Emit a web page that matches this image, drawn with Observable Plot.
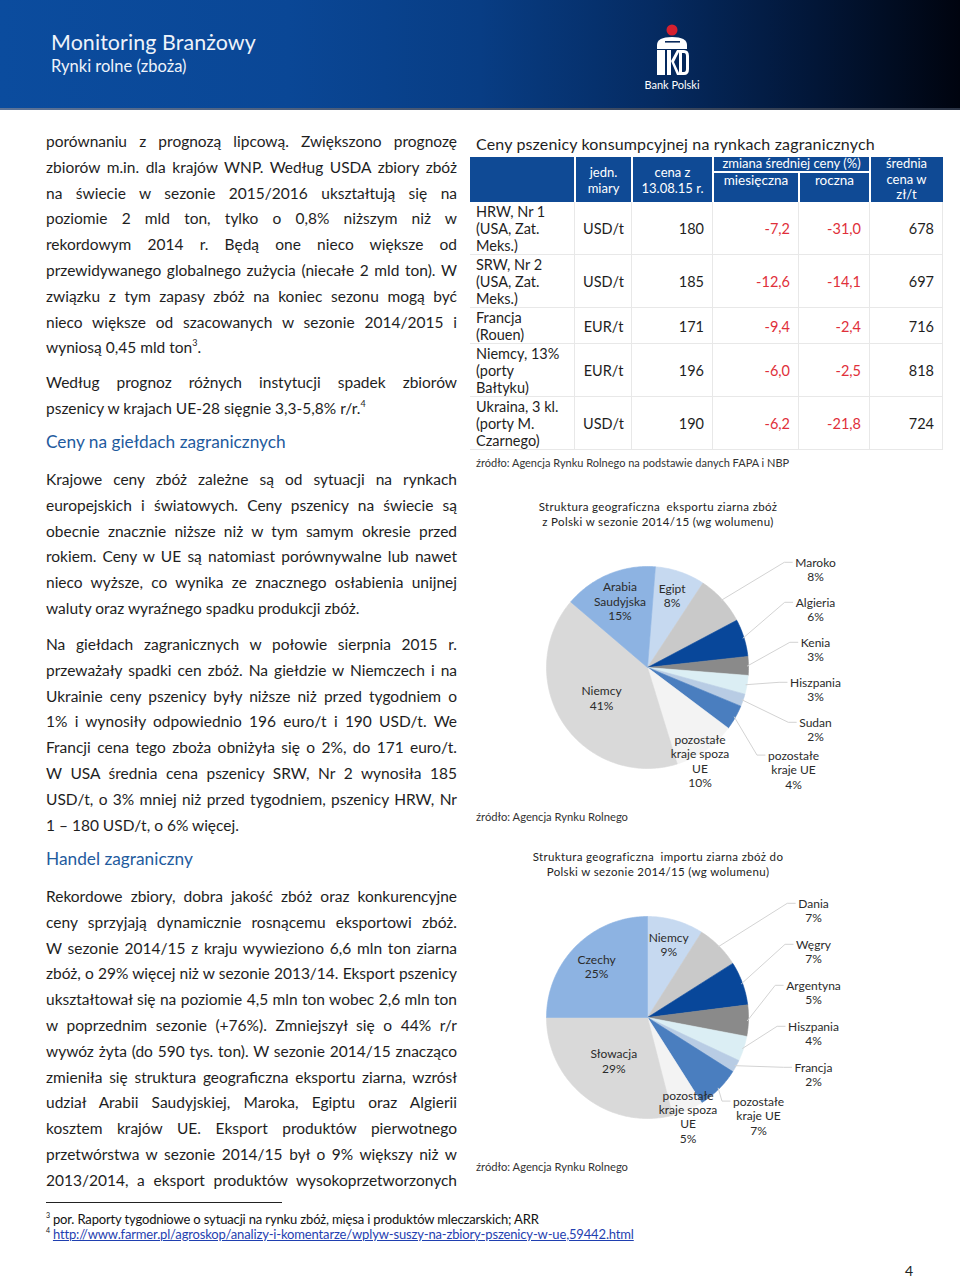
<!DOCTYPE html>
<html lang="pl">
<head>
<meta charset="utf-8">
<script src="https://cdn.jsdelivr.net/npm/d3@7"></script>
<script src="https://cdn.jsdelivr.net/npm/@observablehq/plot@0.6"></script>
<style>
  html,body{margin:0;padding:0;background:#fff;}
  body{width:960px;height:1279px;position:relative;overflow:hidden;font-family:Lato,"Noto Sans",sans-serif;color:#1e1e1e;}
  .abs{position:absolute;}
  .para{position:absolute;left:46px;width:411px;font-size:15.5px;line-height:25.8px;}
  .ln{width:411px;text-align:justify;text-align-last:justify;white-space:normal;}
  .ln.last{text-align-last:left;}
  .para sup{font-size:9px;line-height:0;vertical-align:7px;}
  .head{position:absolute;left:46px;font-size:17.3px;color:#1f5b9e;}
  .cell{position:absolute;box-sizing:border-box;display:flex;align-items:center;}
  .th{color:#fff;font-size:13px;line-height:15.5px;justify-content:center;text-align:center;}
  .td{font-size:14.5px;line-height:17px;}
  .num{justify-content:flex-end;padding-right:9px;}
  .neg{color:#e0303a;}
  .cap{position:absolute;font-size:11.5px;line-height:15px;color:#222;text-align:center;letter-spacing:0.35px;}
  .src{position:absolute;left:476px;font-size:11.2px;color:#333;}
  .fn{position:absolute;left:46px;font-size:13px;letter-spacing:-0.15px;color:#111;}
  .fn sup{font-size:7px;vertical-align:6px;line-height:0;margin-right:3px;}
</style>
</head>
<body>
<script>
// ---------------- DATA ----------------
// Table: Ceny pszenicy konsumpcyjnej na rynkach zagranicznych
const marketNames = ["HRW, Nr 1\n(USA, Zat.\nMeks.)", "SRW, Nr 2\n(USA, Zat.\nMeks.)", "Francja\n(Rouen)", "Niemcy, 13%\n(porty\nBałtyku)", "Ukraina, 3 kl.\n(porty M.\nCzarnego)"];
const marketUnits = ["USD/t", "USD/t", "EUR/t", "EUR/t", "USD/t"];
const priceAug13 = [180, 185, 171, 196, 190];
const monthlyChangePct = [-7.2, -12.6, -9.4, -6.0, -6.2];
const yearlyChangePct = [-31.0, -14.1, -2.4, -2.5, -21.8];
const avgPricePLN = [678, 697, 716, 818, 724];

// Pie 1: export structure (clockwise order as drawn)
const exportCountries = ["Egipt", "Maroko", "Algieria", "Kenia", "Hiszpania", "Sudan", "pozostałe\nkraje UE", "pozostałe\nkraje spoza\nUE", "Niemcy", "Arabia\nSaudyjska"];
const exportShares = [8, 8, 6, 3, 3, 2, 4, 10, 41, 15];

// Pie 2: import structure (clockwise order as drawn)
const importCountries = ["Niemcy", "Dania", "Węgry", "Argentyna", "Hiszpania", "Francja", "pozostałe\nkraje UE", "pozostałe\nkraje spoza\nUE", "Słowacja", "Czechy"];
const importShares = [9, 7, 7, 5, 4, 2, 7, 5, 29, 25];

// ---------------- STYLE ----------------
const slicePalette = ["#c6d9f0", "#c9c9c9", "#08479a", "#8a8a8a", "#dbeef4", "#b8cce4", "#4a7ebf", "#f3f3f3", "#d9d9d9", "#8db3e2"];
const insideLabelIdx = [0, 7, 8, 9];
const insideRadius = {0: 0.76, 7: 1.07, 8: 0.55, 9: 0.72};
</script>

<!-- Header -->
<div class="abs" style="left:0;top:0;width:960px;height:108px;background:linear-gradient(90deg,#0b4c9e 0%,#0a4796 30%,#083d84 50%,#052b62 68%,#021637 85%,#00040f 100%);"></div>
<div class="abs" style="left:0;top:108px;width:960px;height:2px;background:linear-gradient(90deg,#5d7498,#2a3344);"></div>
<div class="abs" style="left:51px;top:29px;font-size:21.4px;color:#eef3fa;font-family:Lato,sans-serif;letter-spacing:0.1px;">Monitoring Branżowy</div>
<div class="abs" style="left:51px;top:56px;font-size:16.5px;color:#eef3fa;">Rynki rolne (zboża)</div>
<svg class="abs" style="left:640px;top:15px" width="70" height="85" viewBox="640 15 70 85">
  <circle cx="672" cy="30" r="5.5" fill="#d5202e"/>
  <path d="M657,49 L657,45 Q657,37 672,37 Q687,37 687,45 L687,49 Z" fill="#fff"/>
  <rect x="665" y="41" width="15" height="1.6" fill="#0a2a5c"/>
  <rect x="657" y="50" width="8" height="25" fill="#fff"/>
  <rect x="667" y="50" width="4" height="25" fill="#fff"/>
  <path d="M671,61 L677,50 L680,50 L674,62 L680,75 L677,75 Z" fill="#fff"/>
  <path d="M679,50 L684,50 Q689,50 689,56 L689,69 Q689,75 684,75 L679,75 Z M682,53 L682,72 L684,72 Q686,72 686,69 L686,56 Q686,53 684,53 Z" fill="#fff" fill-rule="evenodd"/>
  <text x="672" y="89" text-anchor="middle" font-size="11" fill="#fff" font-family="Lato,sans-serif">Bank Polski</text>
</svg>

<!-- Left column text -->
<div id="left"></div>

<!-- Footnotes -->
<div class="abs" style="left:46px;top:1202px;width:236px;height:1px;background:#222;"></div>
<div class="fn" style="top:1211px;"><sup>3</sup>por. Raporty tygodniowe o sytuacji na rynku zbóż, mięsa i produktów mleczarskich; ARR</div>
<div class="fn" style="top:1226px;"><sup>4</sup><span style="color:#1f3fb0;text-decoration:underline;">http://www.farmer.pl/agroskop/analizy-i-komentarze/wplyw-suszy-na-zbiory-pszenicy-w-ue,59442.html</span></div>
<div class="abs" style="left:905px;top:1262px;font-size:14px;color:#222;">4</div>

<!-- Table -->
<div class="abs" style="left:476px;top:134px;font-size:16px;color:#1e1e1e;letter-spacing:0.15px;">Ceny pszenicy konsumpcyjnej na rynkach zagranicznych</div>
<div id="table"></div>
<div class="src" style="top:456px;font-size:11px;">źródło: Agencja Rynku Rolnego na podstawie danych FAPA i NBP</div>

<!-- Pie captions -->
<div class="cap" style="left:470px;top:499px;width:376px;">Struktura geograficzna&nbsp; eksportu ziarna zbóż<br>z Polski w sezonie 2014/15 (wg wolumenu)</div>
<div class="src" style="top:810px;">źródło: Agencja Rynku Rolnego</div>
<div class="cap" style="left:470px;top:849px;width:376px;">Struktura geograficzna&nbsp; importu ziarna zbóż do<br>Polski w sezonie 2014/15 (wg wolumenu)</div>
<div class="src" style="top:1160px;">źródło: Agencja Rynku Rolnego</div>

<div id="pie1" class="abs" style="left:470px;top:530px;"></div>
<div id="pie2" class="abs" style="left:470px;top:880px;"></div>

<script>
// ---------------- LEFT COLUMN ----------------
const paragraphs = [
  {top:129, lines:[
    "porównaniu z prognozą lipcową. Zwiększono prognozę",
    "zbiorów m.in. dla krajów WNP. Według USDA zbiory zbóż",
    "na świecie w sezonie 2015/2016 ukształtują się na",
    "poziomie 2 mld ton, tylko o 0,8% niższym niż w",
    "rekordowym 2014 r. Będą one nieco większe od",
    "przewidywanego globalnego zużycia (niecałe 2 mld ton). W",
    "związku z tym zapasy zbóż na koniec sezonu mogą być",
    "nieco większe od szacowanych w sezonie 2014/2015 i",
    "wyniosą 0,45 mld ton<sup>3</sup>."]},
  {top:370, lines:[
    "Według prognoz różnych instytucji spadek zbiorów",
    "pszenicy w krajach UE-28 sięgnie 3,3-5,8% r/r.<sup>4</sup>"]},
  {top:467, lines:[
    "Krajowe ceny zbóż zależne są od sytuacji na rynkach",
    "europejskich i światowych. Ceny pszenicy na świecie są",
    "obecnie znacznie niższe niż w tym samym okresie przed",
    "rokiem. Ceny w UE są natomiast porównywalne lub nawet",
    "nieco wyższe, co wynika ze znacznego osłabienia unijnej",
    "waluty oraz wyraźnego spadku produkcji zbóż."]},
  {top:632, lines:[
    "Na giełdach zagranicznych w połowie sierpnia 2015 r.",
    "przeważały spadki cen zbóż. Na giełdzie w Niemczech i na",
    "Ukrainie ceny pszenicy były niższe niż przed tygodniem o",
    "1% i wynosiły odpowiednio 196 euro/t i 190 USD/t. We",
    "Francji cena tego zboża obniżyła się o 2%, do 171 euro/t.",
    "W USA średnia cena pszenicy SRW, Nr 2 wynosiła 185",
    "USD/t, o 3% mniej niż przed tygodniem, pszenicy HRW, Nr",
    "1 – 180 USD/t, o 6% więcej."]},
  {top:884, full:true, lines:[
    "Rekordowe zbiory, dobra jakość zbóż oraz konkurencyjne",
    "ceny sprzyjają dynamicznie rosnącemu eksportowi zbóż.",
    "W sezonie 2014/15 z kraju wywieziono 6,6 mln ton ziarna",
    "zbóż, o 29% więcej niż w sezonie 2013/14. Eksport pszenicy",
    "ukształtował się na poziomie 4,5 mln ton wobec 2,6 mln ton",
    "w poprzednim sezonie (+76%). Zmniejszył się o 44% r/r",
    "wywóz żyta (do 590 tys. ton). W sezonie 2014/15 znacząco",
    "zmieniła się struktura geograficzna eksportu ziarna, wzrósł",
    "udział Arabii Saudyjskiej, Maroka, Egiptu oraz Algierii",
    "kosztem krajów UE. Eksport produktów pierwotnego",
    "przetwórstwa w sezonie 2014/15 był o 9% większy niż w",
    "2013/2014, a eksport produktów wysokoprzetworzonych"]}
];
const headings = [{top:431, text:"Ceny na giełdach zagranicznych"}, {top:848, text:"Handel zagraniczny"}];
const left = document.getElementById("left");
paragraphs.forEach(p => {
  const div = document.createElement("div");
  div.className = "para"; div.style.top = p.top + "px";
  p.lines.forEach((l, i) => {
    const ln = document.createElement("div");
    ln.className = "ln" + ((i === p.lines.length - 1 && !p.full) ? " last" : "");
    ln.innerHTML = "<span>" + l + "</span>";
    div.appendChild(ln);
  });
  left.appendChild(div);
});
headings.forEach(h => {
  const d = document.createElement("div");
  d.className = "head"; d.style.top = h.top + "px"; d.textContent = h.text;
  left.appendChild(d);
});
document.querySelectorAll(".ln").forEach(el => {
  const span = el.firstChild;
  el.style.whiteSpace = "nowrap"; el.style.textAlignLast = "left";
  const w = span.getBoundingClientRect().width;
  if (w > 409) {
    const n = span.textContent.length;
    span.style.letterSpacing = ((409 - w) / n) + "px";
  }
  el.style.whiteSpace = ""; el.style.textAlignLast = "";
});

// ---------------- TABLE ----------------
const fmt = v => v.toFixed(1).replace(".", ",");
const tbl = document.getElementById("table");
const colX = [470, 575, 632, 713, 799, 870, 943];
const hdrTop = 157, hdrBot = 202;
const hdrBlue = "#0f4a95";
function cell(x0, x1, y0, y1, html, cls, extra) {
  const d = document.createElement("div");
  d.className = "cell " + cls;
  d.style.left = x0 + "px"; d.style.top = y0 + "px";
  d.style.width = (x1 - x0) + "px"; d.style.height = (y1 - y0) + "px";
  if (extra) Object.assign(d.style, extra);
  d.innerHTML = html;
  tbl.appendChild(d);
}
cell(470, 943, hdrTop, hdrBot, "", "", {background: hdrBlue});
cell(colX[0], colX[1], hdrTop, hdrBot, "", "th");
cell(colX[1], colX[2], hdrTop, hdrBot, "jedn.<br>miary", "th", {paddingTop: "2px"});
cell(colX[2], colX[3], hdrTop, hdrBot, "cena z<br>13.08.15 r.", "th", {paddingTop: "2px"});
cell(colX[3], colX[5], hdrTop, hdrTop + 14, "zmiana średniej ceny (%)", "th");
cell(colX[3], colX[4], hdrTop + 15, hdrTop + 33, "miesięczna", "th", {fontSize: "13.5px"});
cell(colX[4], colX[5], hdrTop + 15, hdrTop + 33, "roczna", "th", {fontSize: "13.5px"});
cell(colX[5], colX[6], hdrTop, hdrBot, "średnia<br>cena w<br>zł/t", "th");
[colX[1], colX[2], colX[3], colX[5]].forEach(x => cell(x - 1, x + 1, hdrTop, hdrBot, "", "", {background: "#fff"}));
cell(colX[4] - 1, colX[4] + 1, hdrTop + 14, hdrBot, "", "", {background: "#fff"});
cell(colX[3], colX[5], hdrTop + 14, hdrTop + 16, "", "", {background: "#fff"});
let y = hdrBot;
marketNames.forEach((name, i) => {
  const nLines = name.split("\n").length;
  const h = nLines * 17 + 2;
  const y1 = y + h;
  cell(colX[0], colX[1], y, y1, name.replace(/\n/g, "<br>"), "td", {paddingLeft: "6px"});
  cell(colX[1], colX[2], y, y1, marketUnits[i], "td", {justifyContent: "center"});
  cell(colX[2], colX[3], y, y1, String(priceAug13[i]), "td num");
  cell(colX[3], colX[4], y, y1, fmt(monthlyChangePct[i]), "td num neg");
  cell(colX[4], colX[5], y, y1, fmt(yearlyChangePct[i]), "td num neg");
  cell(colX[5], colX[6], y, y1, String(avgPricePLN[i]), "td num");
  cell(470, 943, y1 - 1, y1, "", "", {background: "#e8e8e8"});
  colX.slice(1).forEach(x => cell(x - 1, x, y, y1, "", "", {background: "#e8e8e8"}));
  y = y1;
});

// ---------------- PIES (Observable Plot) ----------------
const measureCtx = document.createElement("canvas").getContext("2d");
measureCtx.font = "12px Lato";

function drawPie(target, names, shares, opt) {
  const R = 1.01;
  const total = d3.sum(shares);
  const start = opt.startDeg * Math.PI / 180;
  let acc = 0;
  const slices = names.map((name, i) => {
    const a0 = start + acc / total * 2 * Math.PI;
    acc += shares[i];
    const a1 = start + acc / total * 2 * Math.PI;
    return {i, name, share: shares[i], a0, a1, mid: (a0 + a1) / 2};
  });
  const poly = slices.flatMap(s => {
    const n = Math.max(2, Math.ceil((s.a1 - s.a0) / (Math.PI / 180)));
    const pts = [{x: 0, y: 0, name: s.name}];
    for (let k = 0; k <= n; k++) {
      const a = s.a0 + (s.a1 - s.a0) * k / n;
      pts.push({x: R * Math.sin(a), y: R * Math.cos(a), name: s.name});
    }
    pts.push({x: 0, y: 0, name: s.name});
    return pts;
  });
  const lh = 0.144;
  const labels = [];
  const leaders = [];
  const outside = slices.filter(s => !insideLabelIdx.includes(s.i));
  slices.forEach(s => {
    const text = s.name + "\n" + s.share + "%";
    const nL = text.split("\n").length;
    if (insideLabelIdx.includes(s.i)) {
      const r = insideRadius[s.i];
      const ang = s.mid + (s.i === 7 ? opt.innerShift : 0);
      labels.push({x: r * Math.sin(ang), y: r * Math.cos(ang), text});
    } else {
      const j = outside.indexOf(s);
      const isLast = j === outside.length - 1;
      const lx = isLast ? opt.lastX : opt.labelX;
      const ly = opt.labelTop - j * opt.labelStep;
      labels.push({x: lx, y: ly, text});
      const wMax = d3.max(text.split("\n"), t => measureCtx.measureText(t).width) / 100;
      const firstY = ly + (nL - 1) / 2 * lh;
      const endX = lx - wMax / 2 - 0.03;
      const ex = Math.sin(s.mid), ey = Math.cos(s.mid);
      leaders.push({x: ex, y: ey, name: s.name});
      leaders.push({x: endX - 0.08, y: firstY, name: s.name});
      leaders.push({x: endX, y: firstY, name: s.name});
    }
  });
  const chart = Plot.plot({
    width: 490, height: 300, margin: 0,
    style: {fontFamily: "Lato, 'Noto Sans', sans-serif", background: "transparent", overflow: "visible"},
    x: {domain: [-1.77, 3.13], axis: null},
    y: {domain: [-1.63, 1.37], axis: null},
    color: {domain: names, range: slicePalette},
    marks: [
      Plot.line(poly, {x: "x", y: "y", z: "name", fill: "name", stroke: "name", strokeWidth: 0.6, curve: "linear"}),
      Plot.line(leaders, {x: "x", y: "y", z: "name", stroke: "#d3d3d3", strokeWidth: 1, curve: "linear"}),
      Plot.text(labels, {x: "x", y: "y", text: "text", fontSize: 12, lineHeight: 1.2, fill: "#2b2b2b", textAnchor: "middle"})
    ]
  });
  document.getElementById(target).appendChild(chart);
}

drawPie("pie1", exportCountries, exportShares, {startDeg: 4.5, labelX: 1.68, lastX: 1.46, labelTop: 0.98, labelStep: 0.40, innerShift: 0.1});
drawPie("pie2", importCountries, importShares, {startDeg: 0, labelX: 1.66, lastX: 1.11, labelTop: 1.07, labelStep: 0.41, innerShift: 0.02});
</script>
</body>
</html>
